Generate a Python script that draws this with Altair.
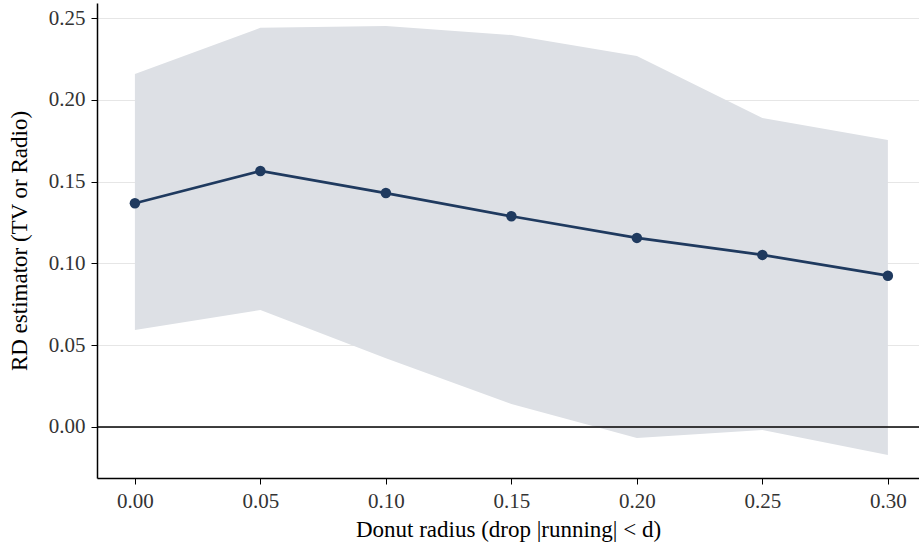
import altair as alt
import pandas as pd

radius = [0.00, 0.05, 0.10, 0.15, 0.20, 0.25, 0.30]
estimate = [0.1368, 0.1565, 0.1430, 0.1288, 0.1156, 0.1052, 0.0925]
ci_low = [0.0593, 0.0715, 0.0420, 0.0141, -0.0067, -0.0018, -0.0172]
ci_high = [0.2158, 0.2440, 0.2452, 0.2396, 0.2268, 0.1889, 0.1754]
y_ticks = [0.00, 0.05, 0.10, 0.15, 0.20, 0.25]
x_ticks = [0.00, 0.05, 0.10, 0.15, 0.20, 0.25, 0.30]

df = pd.DataFrame({"d": radius, "est": estimate, "lo": ci_low, "hi": ci_high})
zero = pd.DataFrame({"y": [0.0]})

FONT = "Liberation Serif, Times New Roman, serif"
LINE = "#1f3a5f"

xscale = alt.Scale(domain=[-0.0151, 0.3124], nice=False, zero=False)
yscale = alt.Scale(domain=[-0.0312, 0.2592], nice=False, zero=False)

xaxis = alt.Axis(values=x_ticks, format=".2f", title="Donut radius (drop |running| < d)",
                 grid=False, domainColor="black", domainWidth=1.5, tickColor="black",
                 tickSize=6, labelPadding=6, titlePadding=7)
yaxis = alt.Axis(values=y_ticks, format=".2f", title="RD estimator (TV or Radio)",
                 grid=True, gridColor="#e6e6e6", gridWidth=1, domainColor="black",
                 domainWidth=1.5, tickColor="black", tickSize=6, labelPadding=6, titlePadding=17)

band = alt.Chart(df).mark_area(color="#dde0e5", opacity=1).encode(
    x=alt.X("d:Q", scale=xscale, axis=xaxis),
    y=alt.Y("lo:Q", scale=yscale, axis=yaxis),
    y2="hi:Q",
)

zline = alt.Chart(zero).mark_rule(color="black", strokeWidth=1.5).encode(
    y=alt.Y("y:Q", scale=yscale)
)

line = alt.Chart(df).mark_line(color=LINE, strokeWidth=2.7).encode(
    x=alt.X("d:Q", scale=xscale), y=alt.Y("est:Q", scale=yscale)
)
pts = alt.Chart(df).mark_circle(color=LINE, size=110, opacity=1).encode(
    x=alt.X("d:Q", scale=xscale), y=alt.Y("est:Q", scale=yscale)
)

chart = alt.layer(band, zline, line, pts).properties(
    width=822, height=475,
    autosize=alt.AutoSizeParams(type="none"),
    padding={"left": 97, "top": 3, "right": 0, "bottom": 67},
).configure_view(stroke=None).configure_axis(
    labelFont=FONT, titleFont=FONT, labelFontSize=21, titleFontSize=23,
    labelColor="#333333", titleColor="black", titleFontWeight="normal",
)

chart.save("out.html", embed_options={"renderer": "svg", "actions": False})
